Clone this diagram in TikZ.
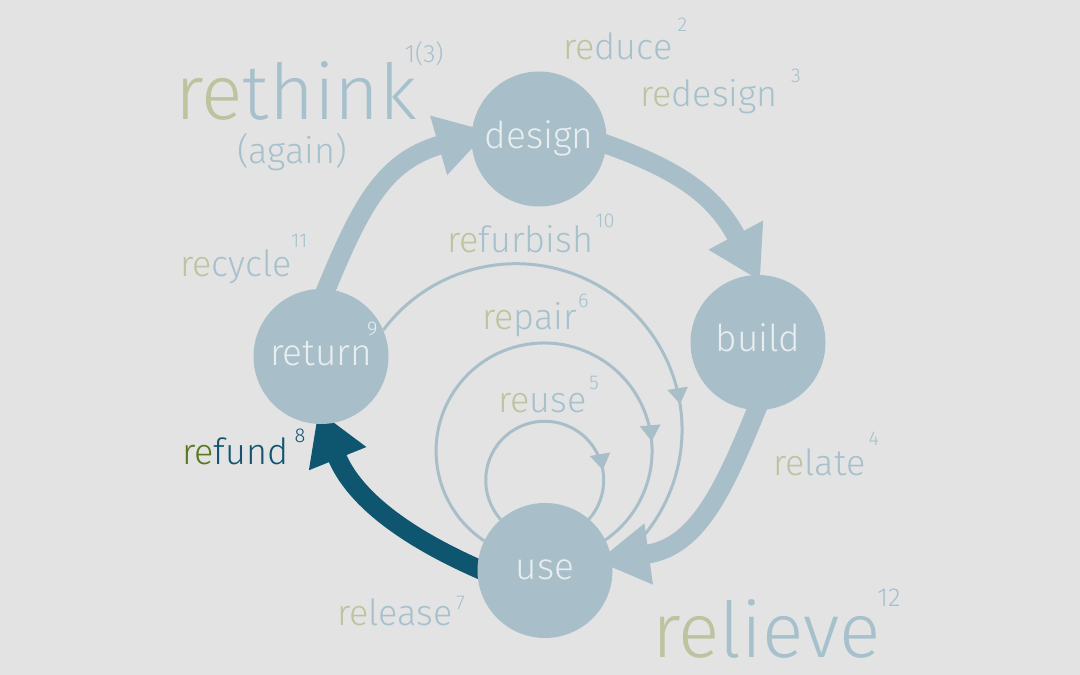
\documentclass[tikz,border=0pt]{standalone}
\usepackage{fontspec}
\IfFontExistsTF{Fira Sans Light}{\setmainfont{Fira Sans Light}}{\setmainfont{Fira Sans}}
\usetikzlibrary{arrows.meta,decorations.markings}
\definecolor{bgc}{RGB}{227,227,227}
\definecolor{cblue}{RGB}{168,191,201}
\definecolor{tblue}{RGB}{166,192,204}
\definecolor{regreen}{RGB}{187,196,158}
\definecolor{ctext}{RGB}{232,238,240}
\definecolor{darkteal}{RGB}{14,86,112}
\definecolor{fundgreen}{RGB}{88,120,30}
\pgfdeclarelayer{bglayer}
\pgfdeclarelayer{arrlayer}
\pgfsetlayers{bglayer,arrlayer,main}
\newcommand\reword[1]{\textcolor{regreen}{re}\textcolor{tblue}{#1}}
\tikzset{
  circ/.style={circle, fill=cblue, minimum size=135pt, inner sep=0pt, text=ctext,
    font=\fontsize{37}{40}\selectfont, text height=19pt, text depth=0pt},
  word/.style={anchor=base west, inner sep=0pt, font=\fontsize{36}{40}\selectfont},
  bigword/.style={anchor=base west, inner sep=0pt, font=\fontsize{77}{80}\selectfont},
  supnum/.style={anchor=base west, inner sep=0pt, text=tblue, font=\fontsize{20}{22}\selectfont},
  bigarr/.style={color=cblue, line width=19pt, -{Triangle[length=52pt,width=58pt]}},
  thinarr/.style={color=cblue, line width=3pt, postaction={decorate},
    decoration={markings, mark=at position #1 with {\arrow{Triangle[length=16pt,width=20pt]}}}}
}
\begin{document}
\begin{tikzpicture}[x=1pt,y=1pt]
\begin{pgfonlayer}{bglayer}
\fill[bgc] (0,0) rectangle (1080,675);
\end{pgfonlayer}
\useasboundingbox (0,0) rectangle (1080,675);

% circles
\node[circ] (design) at (539,536) {design};
\node[circ] (build) at (758,332.5) {build};
\node[circ] (use) at (545,104.5) {use};
\node[circ] (return) at (321,318.5) {return};

% connectors
\begin{pgfonlayer}{arrlayer}
\draw[bigarr] ([shift={(95:45pt)}]return.center) to[out=68,in=196,looseness=1.15] ([shift={(171:51pt)}]design.center);
\draw[bigarr] ([shift={(3:45pt)}]design.center) to[out=-18,in=118,looseness=1.1] ([shift={(88:61.5pt)}]build.center);
\draw[bigarr] ([shift={(-80:45pt)}]build.center) to[out=248,in=8,looseness=1.1] ([shift={(10:53pt)}]use.center);
\draw[bigarr, color=darkteal] ([shift={(190:45pt)}]use.center) to[out=158,in=292] ([shift={(267:54pt)}]return.center);
\draw[thinarr=0.68] (return.23) arc[start angle=143.1, end angle=-54.3, radius=166pt];
\draw[thinarr=0.79] (use.154) arc[start angle=236.3, end angle=-56.3, radius=108pt];
\draw[thinarr=0.804] (use.131) arc[start angle=221.6, end angle=-41.6, radius=59pt];
\end{pgfonlayer}

% words
\node[bigword] (rethink) at (175,555) {\reword{think}};
\node[anchor=base, inner sep=0pt, text=tblue, font=\fontsize{36}{40}\selectfont] (again) at (292,511) {(again)};
\node[supnum, font=\fontsize{25}{27}\selectfont] (s1) at ([shift={(-13pt,57pt)}]rethink.base east) {1(3)};
\node[word] (reduce) at (563,615) {\reword{duce}};
\node[supnum] (s2) at ([shift={(5pt,28pt)}]reduce.base east) {2};
\node[word] (redesign) at (640,568) {\reword{design}};
\node[supnum] (s3) at ([shift={(13pt,24pt)}]redesign.base east) {3};
\node[word] (refurbish) at (447,422) {\reword{furbish}};
\node[supnum] (s10) at ([shift={(2pt,25pt)}]refurbish.base east) {10};
\node[word] (recycle) at (180,398) {\reword{cycle}};
\node[supnum] (s11) at ([shift={(-1pt,29pt)}]recycle.base east) {11};
\node[supnum, text=ctext] (s9) at (367,339) {9};
\node[word] (repair) at (482,345) {\reword{pair}};
\node[supnum] (s6) at ([shift={(1pt,22pt)}]repair.base east) {6};
\node[word] (reuse) at (498,262) {\reword{use}};
\node[supnum] (s5) at ([shift={(2pt,23pt)}]reuse.base east) {5};
\node[word] (relate) at (773,199) {\reword{late}};
\node[supnum] (s4) at ([shift={(3pt,30pt)}]relate.base east) {4};
\node[word] (refund) at (182,210) {\textcolor{fundgreen}{re}\textcolor{darkteal}{fund}};
\node[supnum, text=darkteal] (s8) at ([shift={(6pt,22pt)}]refund.base east) {8};
\node[word] (release) at (337,49) {\reword{lease}};
\node[supnum] (s7) at ([shift={(3pt,16pt)}]release.base east) {7};
\node[bigword] (relieve) at (652,17) {\reword{lieve}};
\node[supnum, font=\fontsize{26}{28}\selectfont] (s12) at ([shift={(-4pt,51pt)}]relieve.base east) {12};
\end{tikzpicture}
\end{document}
